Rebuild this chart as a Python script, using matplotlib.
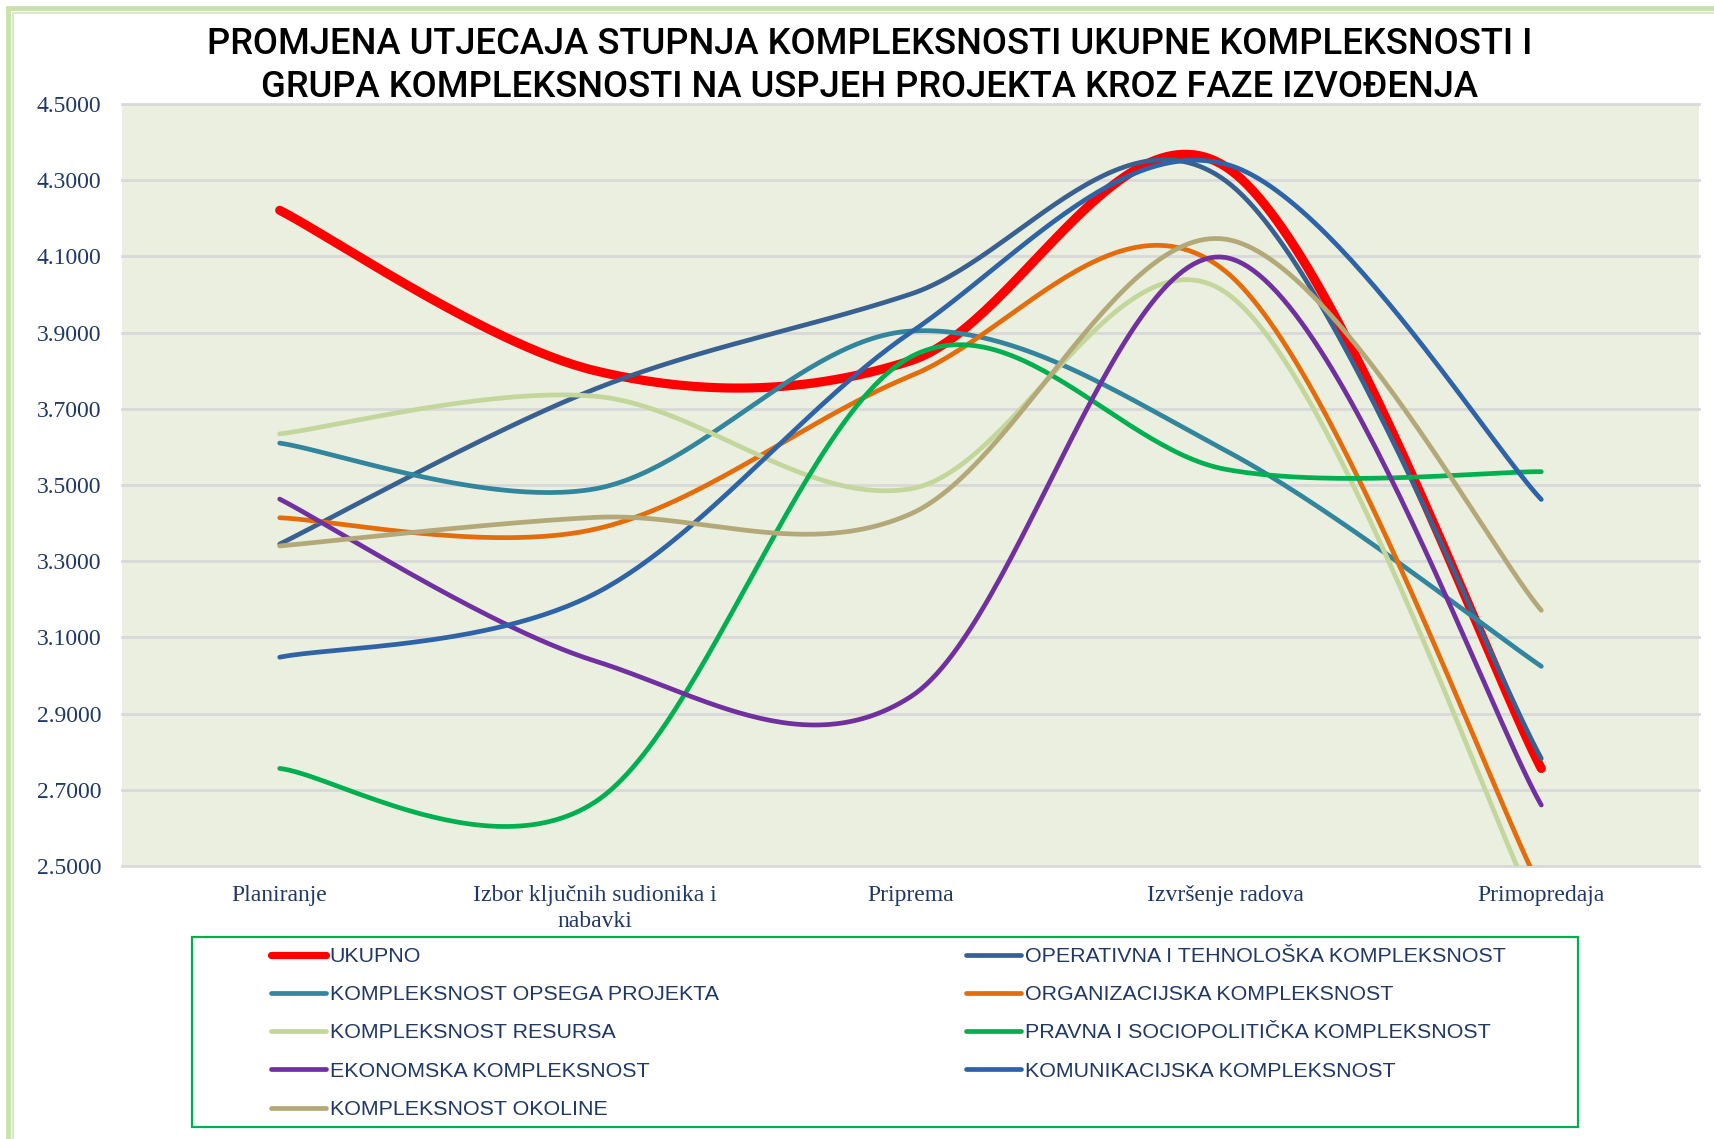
import numpy as np
import matplotlib
matplotlib.use('Agg')
import matplotlib.pyplot as plt
from matplotlib.lines import Line2D
from matplotlib.patches import Rectangle

# ---------------- data ----------------
categories = ['Planiranje', 'Izbor ključnih sudionika i\nnabavki', 'Priprema',
              'Izvršenje radova', 'Primopredaja']

series_names = ['UKUPNO',
                'OPERATIVNA I TEHNOLOŠKA KOMPLEKSNOST',
                'KOMPLEKSNOST OPSEGA PROJEKTA',
                'ORGANIZACIJSKA KOMPLEKSNOST',
                'KOMPLEKSNOST RESURSA',
                'PRAVNA I SOCIOPOLITIČKA KOMPLEKSNOST',
                'EKONOMSKA KOMPLEKSNOST',
                'KOMUNIKACIJSKA KOMPLEKSNOST',
                'KOMPLEKSNOST OKOLINE']

ukupno = [4.221, 3.800, 3.826, 4.335, 2.756]
operativna = [3.345, 3.752, 4.001, 4.298, 2.782]
opsega = [3.610, 3.490, 3.904, 3.590, 3.024]
organizacijska = [3.414, 3.384, 3.786, 4.060, 2.437]
resursa = [3.634, 3.733, 3.490, 4.005, 2.357]
pravna = [2.756, 2.668, 3.836, 3.541, 3.535]
ekonomska = [3.463, 3.038, 2.944, 4.097, 2.660]
komunikacijska = [3.048, 3.215, 3.900, 4.342, 3.462]
okoline = [3.340, 3.415, 3.424, 4.145, 3.171]

series_values = [ukupno, operativna, opsega, organizacijska, resursa,
                 pravna, ekonomska, komunikacijska, okoline]

y_ticks = [2.5, 2.7, 2.9, 3.1, 3.3, 3.5, 3.7, 3.9, 4.1, 4.3, 4.5]

title = ('PROMJENA UTJECAJA STUPNJA KOMPLEKSNOSTI UKUPNE KOMPLEKSNOSTI I\n'
         'GRUPA KOMPLEKSNOSTI NA USPJEH PROJEKTA KROZ FAZE IZVOĐENJA')

# ---------------- styles ----------------
colors = ['#ff0000', '#386192', '#31859c', '#e46c0a', '#c3d69b',
          '#00b050', '#7030a0', '#2e63a8', '#b3a878']
widths = [6.6, 3.4, 3.4, 3.4, 3.4, 3.4, 3.4, 3.4, 3.4]
label_color = '#1f3864'


def excel_smooth(xs, ys, n=60):
    """Bezier smoothing (Catmull-Rom style control points, as in spreadsheet charts)."""
    P = np.column_stack([np.asarray(xs, float), np.asarray(ys, float)])
    m = len(P)
    out = []
    for i in range(m - 1):
        p0 = P[i - 1] if i > 0 else P[i]
        p1 = P[i]
        p2 = P[i + 1]
        p3 = P[i + 2] if i + 2 < m else P[i + 1]
        c1 = p1 + (p2 - p0) / 6.0
        c2 = p2 - (p3 - p1) / 6.0
        t = np.linspace(0, 1, n)[:, None]
        seg = ((1 - t) ** 3) * p1 + 3 * ((1 - t) ** 2) * t * c1 + 3 * (1 - t) * t ** 2 * c2 + t ** 3 * p2
        out.append(seg if i == 0 else seg[1:])
    pts = np.vstack(out)
    return pts[:, 0], pts[:, 1]


W, H = 1715, 1139
fig = plt.figure(figsize=(W / 100, H / 100), dpi=100)
fig.patch.set_facecolor('white')

# outer light-green frame
fig.add_artist(Rectangle((8 / W, -0.05), 1.1, 1 - 8 / H + 0.05, transform=fig.transFigure,
                         fill=False, edgecolor='#c9e2a9', linewidth=3.5))
fig.add_artist(Rectangle((13 / W, -0.05), 1.1, 1 - 13 / H + 0.05, transform=fig.transFigure,
                         fill=False, edgecolor='#d9ebc4', linewidth=1.5))

ax_l, ax_r, ax_t, ax_b = 122, 1699, 104, 866
ax = fig.add_axes([ax_l / W, 1 - ax_b / H, (ax_r - ax_l) / W, (ax_b - ax_t) / H])
ax.set_facecolor('#ebefdf')

x = np.arange(len(categories))
handles = []
for name, vals, col, lw in zip(series_names, series_values, colors, widths):
    sx, sy = excel_smooth(x, vals)
    ax.plot(sx, sy, color=col, linewidth=lw, solid_capstyle='round', zorder=3)
    handles.append(Line2D([], [], color=col, linewidth=(5.2 if name == 'UKUPNO' else 3.4),
                          solid_capstyle='round', label=name))

ax.set_xlim(-0.5, len(categories) - 0.5)
ax.set_ylim(2.5, 4.5)
ax.set_yticks(y_ticks)
ax.set_yticklabels([f'{v:.4f}' for v in y_ticks], fontfamily='Liberation Serif',
                   fontsize=17, color=label_color)
ax.set_xticks(x)
ax.set_xticklabels(categories, fontfamily='Liberation Serif', fontsize=17,
                   color=label_color, linespacing=1.3)
ax.tick_params(axis='both', length=0)
ax.tick_params(axis='y', pad=15)
ax.tick_params(axis='x', pad=13.5)
for s in ax.spines.values():
    s.set_visible(False)
ax.yaxis.grid(True, color='#d9d9d9', linewidth=2.0, zorder=1)
ax.set_axisbelow(True)
for gl in ax.get_ygridlines():
    gl.set_clip_on(False)

fig.text(870 / W, 1 - 66 / H, title, ha='center', va='center', fontsize=26.2,
         fontfamily='Roboto', fontweight='medium', color='black', linespacing=1.27)

# legend
leg_kw = dict(loc='upper left', frameon=False, borderpad=0, borderaxespad=0,
              handlelength=2.55, handletextpad=0.2, labelspacing=0.9,
              prop={'family': 'Liberation Sans', 'size': 15.4}, labelcolor=label_color)
col1 = [handles[i] for i in (0, 2, 4, 6, 8)]
col2 = [handles[i] for i in (1, 3, 5, 7)]
fig.legend(handles=col1, bbox_to_anchor=(271 / W, 1 - 947 / H), **leg_kw)
fig.legend(handles=col2, bbox_to_anchor=(966 / W, 1 - 947 / H), **leg_kw)
fig.add_artist(Rectangle((192 / W, 1 - 1127 / H), (1578 - 192) / W, (1127 - 937) / H,
                         transform=fig.transFigure, fill=False, edgecolor='#00b050',
                         linewidth=1.6))

fig.savefig('out.png', dpi=100, facecolor='white')
